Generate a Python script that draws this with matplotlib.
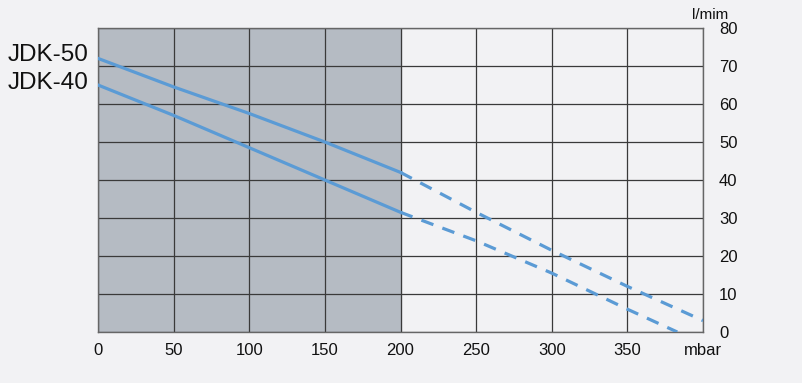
import matplotlib.pyplot as plt

plt.rcParams['font.family'] = ['Liberation Sans', 'DejaVu Sans']

# Dữ liệu (mbar -> l/min)
x_solid = [0, 50, 100, 150, 200]
jdk50_solid = [72, 64.5, 57.5, 50, 42]
jdk40_solid = [65, 57, 48.5, 40, 31.5]

x50_dash = [200, 250, 300, 350, 400]
jdk50_dash = [42, 31.5, 21.5, 12, 3]
x40_dash = [200, 250, 300, 350, 383]
jdk40_dash = [31.5, 24, 15.5, 6, 0]

x_ticks = [0, 50, 100, 150, 200, 250, 300, 350, 400]
x_labels = ["0", "50", "100", "150", "200", "250", "300", "350", "mbar"]
y_ticks = [0, 10, 20, 30, 40, 50, 60, 70, 80]
series_names = ["JDK-50", "JDK-40"]

bg = "#f2f2f4"
line_color = "#5b9bd5"

fig = plt.figure(figsize=(8.02, 3.83), dpi=100, facecolor=bg)
ax = fig.add_axes([98 / 802, 1 - 332 / 383, 605 / 802, 304 / 383])
ax.set_facecolor(bg)

# Vùng tô xám 0-200 mbar
ax.axvspan(0, 200, color="#b5bbc3", zorder=0)

# Lưới
for xv in x_ticks:
    ax.axvline(xv, color="#3a3a3a", linewidth=0.9, zorder=1)
for yv in y_ticks:
    ax.axhline(yv, color="#3a3a3a", linewidth=0.9, zorder=1)

# Đường đặc tính
ax.plot(x_solid, jdk50_solid, color=line_color, linewidth=2.3, zorder=3)
ax.plot(x_solid, jdk40_solid, color=line_color, linewidth=2.3, zorder=3)
ax.plot(x50_dash, jdk50_dash, color=line_color, linewidth=2.3, linestyle=(0, (4, 3)), zorder=3)
ax.plot(x40_dash, jdk40_dash, color=line_color, linewidth=2.3, linestyle=(0, (4, 3)), zorder=3)

ax.set_xlim(0, 400)
ax.set_ylim(0, 80)
ax.set_xticks(x_ticks)
ax.set_xticklabels(x_labels)
ax.set_yticks(y_ticks)
ax.yaxis.tick_right()
ax.tick_params(axis="both", length=0, labelsize=12, colors="#111111")
ax.tick_params(axis="x", pad=8)
ax.tick_params(axis="y", pad=11.5)
for lbl in ax.get_yticklabels():
    lbl.set_horizontalalignment("left")

for sp in ax.spines.values():
    sp.set_color("#666666")
    sp.set_linewidth(1.0)

# Nhãn
fig.text(710 / 802, 1 - 15 / 383, "l/mim", fontsize=11, ha="center", va="center", color="#111111")
fig.text(8 / 802, 1 - 55 / 383, series_names[0], fontsize=17.5, ha="left", va="center", color="#111111")
fig.text(8 / 802, 1 - 83 / 383, series_names[1], fontsize=17.5, ha="left", va="center", color="#111111")

plt.savefig("out.png", dpi=100, facecolor=bg)
